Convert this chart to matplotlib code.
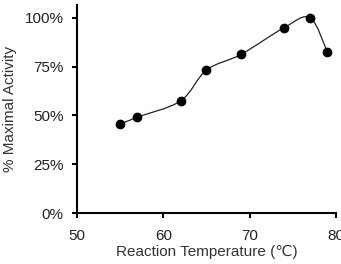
import numpy as np
import matplotlib
matplotlib.use('Agg')
import matplotlib.pyplot as plt
from matplotlib.path import Path
from matplotlib.patches import PathPatch

plt.rcParams['font.family'] = ['Liberation Sans', 'DejaVu Sans']

# data
temperatura = [55, 57, 62, 65, 69, 74, 77, 79]
atividade = [45.5, 49.1, 57.4, 73.2, 81.2, 94.9, 100.0, 82.6]
yticks = [0, 25, 50, 75, 100]
xticks = [50, 60, 70, 80]


def curva_suave(x, y):
    # bezier tipo catmull-rom (como a suavizacao do Excel)
    pts = np.column_stack([x, y]).astype(float)
    n = len(pts)
    verts = [pts[0]]
    codes = [Path.MOVETO]
    for i in range(n - 1):
        p0 = pts[i - 1] if i > 0 else pts[i]
        p1 = pts[i]
        p2 = pts[i + 1]
        p3 = pts[i + 2] if i + 2 < n else pts[i + 1]
        c1 = p1 + (p2 - p0) / 6.0
        c2 = p2 - (p3 - p1) / 6.0
        verts += [c1, c2, p2]
        codes += [Path.CURVE4] * 3
    return Path(verts, codes)


fig = plt.figure(figsize=(3.41, 2.64), dpi=100)
ax = fig.add_axes([0.226, 0.193, 0.759, 0.788])

patch = PathPatch(curva_suave(temperatura, atividade), facecolor='none',
                  edgecolor='#222222', lw=0.9)
ax.add_patch(patch)
ax.plot(temperatura, atividade, 'o', color='black', ms=6, zorder=3)

ax.set_xlim(50, 80)
ax.set_ylim(0, 106.5)
ax.set_xticks(xticks)
ax.set_yticks(yticks)
ax.set_yticklabels(['{}%'.format(v) for v in yticks])

for s in ['top', 'right']:
    ax.spines[s].set_visible(False)
for s in ['left', 'bottom']:
    ax.spines[s].set_linewidth(1.5)
ax.tick_params(direction='out', length=3.5, width=1.5, labelsize=11,
               colors='black', labelcolor='#222222')
ax.tick_params(axis='y', pad=6)
ax.tick_params(axis='x', pad=8)

ax.set_xlabel('Reaction Temperature (℃)', fontsize=11, labelpad=1, color='#333333')
ax.set_ylabel('% Maximal Activity', fontsize=11, labelpad=6, color='#333333')

fig.savefig('out.png', dpi=100)
